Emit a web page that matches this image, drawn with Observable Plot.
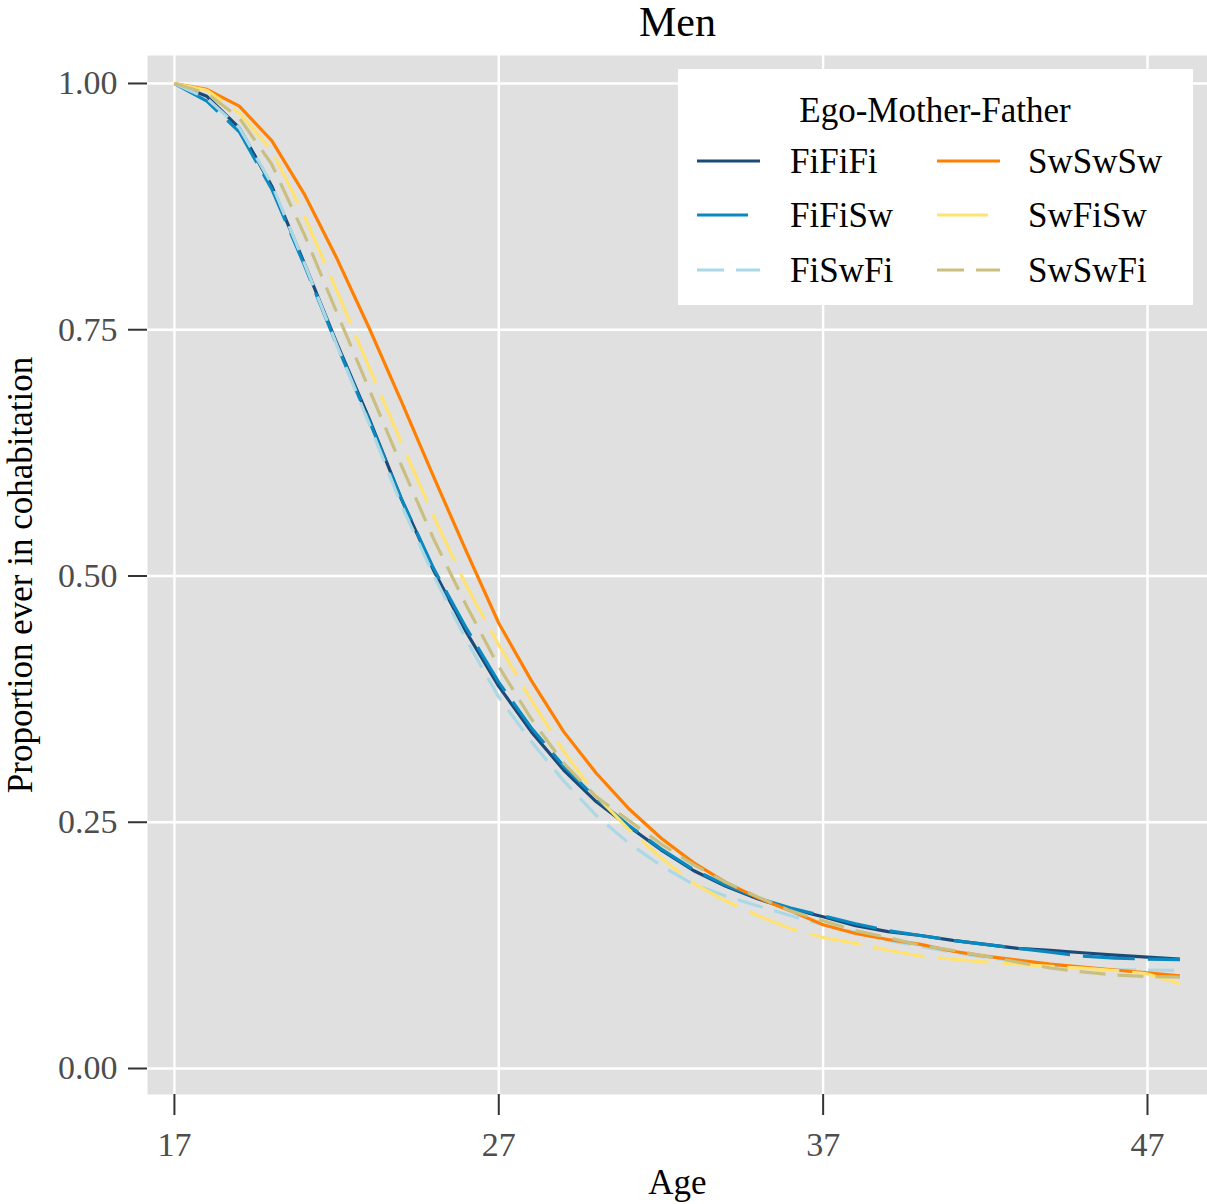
<!DOCTYPE html>
<html><head><meta charset="utf-8">
<script src="https://cdn.jsdelivr.net/npm/d3@7"></script>
<script src="https://cdn.jsdelivr.net/npm/@observablehq/plot@0.6"></script>
<style>
body{margin:0;background:#fff;}
#wrap{position:relative;width:1207px;height:1204px;font-family:"Liberation Serif","Times New Roman",serif;}
#legend{position:absolute;left:678px;top:69px;width:515px;height:236px;background:#fff;}
</style></head><body><div id="wrap"></div>
<script>
const ages = [17,18,19,20,21,22,23,24,25,26,27,28,29,30,31,32,33,34,35,36,37,38,39,40,41,42,43,44,45,46,47,48];
const FiFiFi = [1.000,0.987,0.955,0.896,0.818,0.737,0.660,0.578,0.505,0.443,0.388,0.342,0.303,0.271,0.246,0.222,0.201,0.185,0.172,0.162,0.154,0.145,0.139,0.135,0.130,0.126,0.122,0.120,0.1175,0.115,0.113,0.111];
const FiFiSw = [1.000,0.982,0.951,0.893,0.816,0.735,0.658,0.578,0.507,0.447,0.392,0.346,0.307,0.274,0.247,0.223,0.202,0.186,0.173,0.163,0.155,0.147,0.140,0.135,0.130,0.126,0.122,0.118,0.114,0.112,0.111,0.1105];
const FiSwFi = [1.000,0.985,0.955,0.898,0.818,0.735,0.655,0.572,0.500,0.435,0.377,0.332,0.292,0.257,0.229,0.206,0.187,0.175,0.165,0.155,0.146,0.138,0.130,0.124,0.118,0.113,0.109,0.105,0.102,0.1005,0.100,0.0995];
const SwSwSw = [1.000,0.994,0.977,0.942,0.888,0.823,0.752,0.677,0.600,0.525,0.452,0.394,0.342,0.300,0.264,0.234,0.209,0.189,0.173,0.160,0.146,0.137,0.131,0.126,0.119,0.114,0.110,0.106,0.103,0.100,0.097,0.094];
const SwFiSw = [1.000,0.993,0.970,0.932,0.866,0.790,0.712,0.635,0.560,0.490,0.430,0.374,0.322,0.277,0.243,0.214,0.188,0.170,0.155,0.142,0.133,0.127,0.120,0.114,0.111,0.108,0.1056,0.1036,0.1018,0.0995,0.096,0.086];
const SwSwFi = [1.000,0.990,0.965,0.918,0.847,0.768,0.690,0.612,0.537,0.470,0.408,0.355,0.310,0.276,0.252,0.228,0.207,0.189,0.174,0.160,0.150,0.140,0.133,0.125,0.120,0.114,0.108,0.102,0.098,0.095,0.0934,0.0927];

const seriesNames = ["FiFiFi","FiFiSw","FiSwFi","SwSwSw","SwFiSw","SwSwFi"];
const seriesValues = [FiFiFi, FiFiSw, FiSwFi, SwSwSw, SwFiSw, SwSwFi];
const seriesColors = ["#1c4a78","#0a88c0","#acd8e6","#ff7f00","#ffe270","#c9bf80"];
const seriesDash = [null,"52,13","26,12",null,"52,13","26,12"];
const xTicks = [17,27,37,47];
const yTicks = [0,0.25,0.5,0.75,1];
const titleText = "Men";
const xLabel = "Age";
const yLabel = "Proportion ever in cohabitation";
const legendTitle = "Ego-Mother-Father";

const FONT = '"Liberation Serif","Times New Roman",serif';

const lineMarks = seriesNames.map((name, s) => {
  const rows = ages.map((a, i) => ({age: a, value: seriesValues[s][i], series: name}));
  return Plot.line(rows, {
    x: "age", y: "value",
    stroke: seriesColors[s], strokeWidth: 3.2,
    strokeDasharray: seriesDash[s] || undefined,
    strokeLinecap: "butt", strokeLinejoin: "round"
  });
});

const chart = Plot.plot({
  width: 1207, height: 1204,
  marginLeft: 147, marginRight: 0, marginTop: 55, marginBottom: 110,
  style: {fontFamily: FONT, fontSize: "34px", background: "#fff", overflow: "visible"},
  x: {domain: [16.17, 48.85]},
  y: {domain: [-0.0264, 1.0284]},
  marks: [
    Plot.frame({fill: "#e0e0e0", stroke: null}),
    Plot.gridX(xTicks, {stroke: "#fff", strokeOpacity: 1, strokeWidth: 2.4}),
    Plot.gridY(yTicks, {stroke: "#fff", strokeOpacity: 1, strokeWidth: 2.4}),
    Plot.axisX(xTicks, {tickSize: 21, tickPadding: 16, label: null, stroke: "#333", strokeWidth: 2, fill: "#4d4d4d", fontSize: 34}),
    Plot.axisY(yTicks, {tickSize: 19, tickPadding: 11, label: null, tickFormat: d3.format(".2f"), stroke: "#333", strokeWidth: 2, fill: "#4d4d4d", fontSize: 34}),
    ...lineMarks,
    Plot.text([titleText], {frameAnchor: "top", lineAnchor: "middle", dy: -33, fontSize: 42, fill: "#000"}),
    Plot.text([xLabel], {frameAnchor: "bottom", lineAnchor: "middle", dy: 88, fontSize: 35, fill: "#000"}),
    Plot.text([yLabel], {frameAnchor: "left", textAnchor: "middle", lineAnchor: "middle", dx: -127, rotate: -90, fontSize: 35, fill: "#000"})
  ]
});

const wrap = document.getElementById("wrap");
wrap.appendChild(chart);

// legend
const leg = d3.select(wrap).append("div").attr("id", "legend");
const svg = leg.append("svg").attr("width", 515).attr("height", 236)
  .style("font-family", FONT);
svg.append("text").attr("x", 257).attr("y", 53).attr("text-anchor", "middle")
  .attr("font-size", 35).attr("fill", "#000").text(legendTitle);
const rowsY = [92, 146, 201];
seriesNames.forEach((name, s) => {
  const col = Math.floor(s / 3), row = s % 3;
  const kx = col === 0 ? 19 : 259;
  const tx = col === 0 ? 112 : 350;
  const y = rowsY[row];
  svg.append("line").attr("x1", kx).attr("x2", kx + 63).attr("y1", y).attr("y2", y)
    .attr("stroke", seriesColors[s]).attr("stroke-width", 3.2)
    .attr("stroke-dasharray", seriesDash[s] ? (s === 1 || s === 4 ? "51,13" : "27,12") : null);
  svg.append("text").attr("x", tx).attr("y", y + 12).attr("font-size", 35)
    .attr("fill", "#000").text(name);
});
</script>
</body></html>
